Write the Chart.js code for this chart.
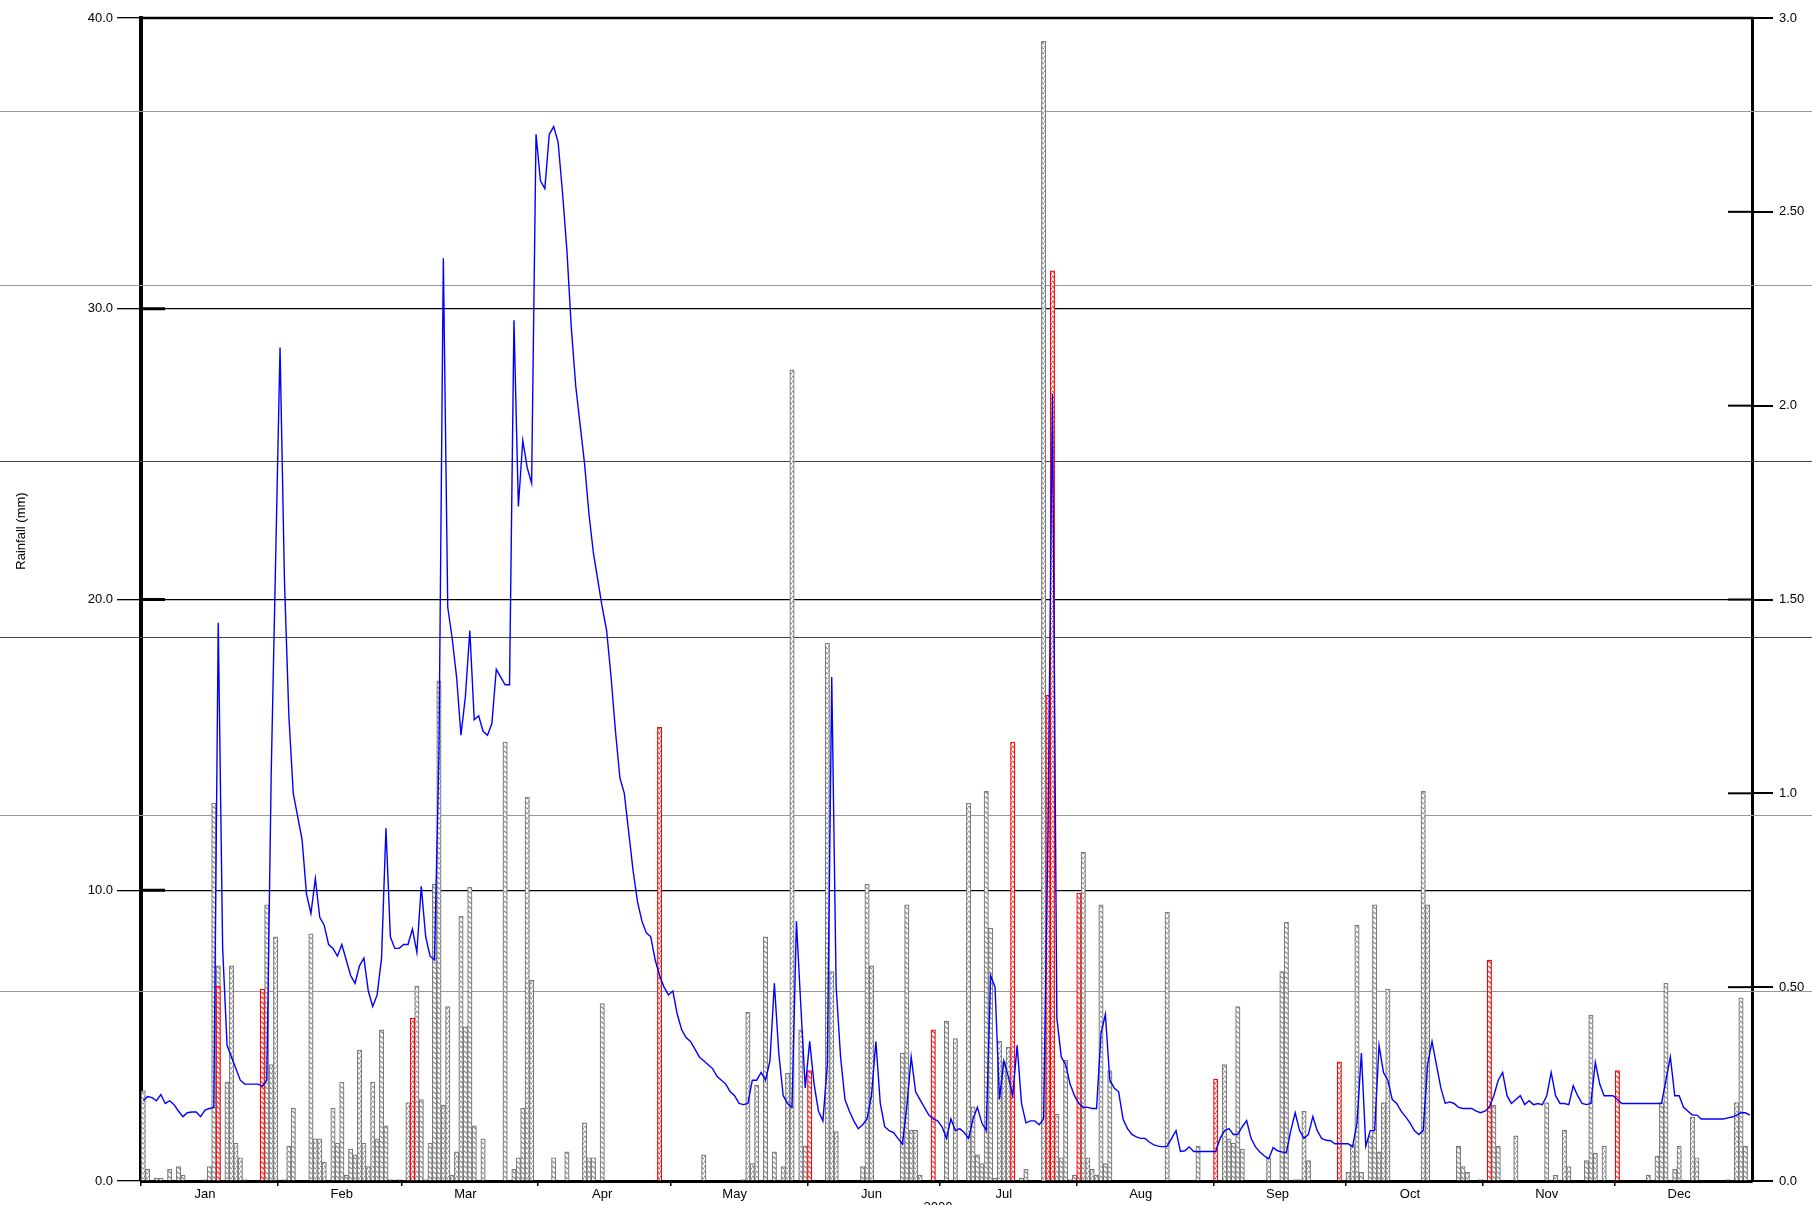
<!DOCTYPE html>
<html>
<head>
<meta charset="utf-8">
<script src="https://cdn.jsdelivr.net/npm/chart.js@4.4.1/dist/chart.umd.min.js"></script>
<style>
html, body { margin: 0; padding: 0; background: #fff; }
</style>
</head>
<body>
<canvas id="rainChart" width="1812" height="1205"></canvas>
<script>
const monthNames = ["Jan","Feb","Mar","Apr","May","Jun","Jul","Aug","Sep","Oct","Nov","Dec"];
const monthDays = [31,28,31,30,31,30,31,31,30,31,30,31];
const yearLabel = "2000";

// daily rainfall (mm), [day of year, value], grey bars
const greyRain = [[0,3.1],[1,0.4],[3,0.1],[4,0.1],[6,0.4],[8,0.5],[9,0.2],[14,0.05],[15,0.5],[16,13.0],[17,7.4],[19,3.4],[20,7.4],[21,1.3],[22,0.8],[23,0.05],
  [28,9.5],[29,4.0],[30,8.4],[32,0.05],[33,1.2],[34,2.5],[38,8.5],[39,1.45],[40,1.45],[41,0.65],[43,2.5],[44,1.3],[45,3.4],[46,0.2],[47,1.1],[48,0.9],[49,4.5],
  [50,1.3],[51,0.5],[52,3.4],[53,1.45],[54,5.2],[55,1.9],[56,0.05],[58,0.05],[60,2.7],[62,6.7],[63,2.8],[64,0.05],[65,1.3],[66,10.2],[67,17.2],[68,2.6],[69,6.0],
  [70,0.2],[71,1.0],[72,9.1],[73,5.3],[74,10.1],[75,1.9],[77,1.45],[82,15.1],[84,0.4],[85,0.8],[86,2.5],[87,13.2],[88,6.9],[93,0.8],[96,1.0],[100,2.0],[101,0.8],
  [102,0.8],[104,6.1],[127,0.9],[136,0.05],[137,5.8],[138,0.6],[139,3.3],[141,8.4],[143,1.0],[145,0.5],[146,3.7],[147,27.9],[149,5.2],[150,1.2],[155,18.5],
  [156,7.2],[157,1.7],[163,0.5],[164,10.2],[165,7.4],[172,4.4],[173,9.5],[174,1.75],[175,1.75],[176,0.2],[182,5.5],[184,4.9],[187,13.0],[188,2.55],[189,0.9],
  [190,0.6],[191,13.4],[192,8.7],[193,0.1],[194,4.8],[195,4.1],[196,4.6],[199,0.1],[200,0.4],[204,39.2],[207,2.3],[208,0.8],[209,4.15],[210,0.05],[211,0.2],
  [213,11.3],[214,0.8],[215,0.4],[216,0.2],[217,9.5],[218,0.6],[219,3.8],[232,9.25],[239,1.2],[245,4.0],[246,1.45],[247,1.3],[248,6.0],[249,1.1],[255,0.8],
  [258,7.2],[259,8.9],[261,0.05],[262,0.05],[263,2.4],[264,0.7],[273,0.3],[274,1.25],[275,8.8],[276,0.3],[278,1.55],[279,9.5],[280,1.0],[281,2.7],[282,6.6],
  [290,13.4],[291,9.5],[298,1.2],[299,0.5],[300,0.3],[303,0.05],[306,2.6],[307,1.2],[311,1.55],[318,2.7],[320,0.2],[322,1.75],[323,0.5],[327,0.7],[328,5.7],
  [329,0.95],[331,1.2],[341,0.2],[343,0.85],[344,2.7],[345,6.8],[347,0.4],[348,1.2],[351,2.2],[352,0.8],[359,0.05],[361,2.7],[362,6.3],[363,1.2]];

// red bars
const redRain = [[17,6.7],[27,6.6],[61,5.6],[117,15.6],[151,3.8],[179,5.2],[197,15.1],[205,16.7],[206,31.3],[212,9.9],[243,3.5],[271,4.1],[305,7.6],[334,3.8]];

// daily flow, right axis
const flow = [
  0.207,0.218,0.215,0.207,0.223,0.2,0.207,0.197,0.18,0.166,
  0.176,0.178,0.178,0.166,0.183,0.187,0.19,1.44,0.6,0.35,
  0.32,0.29,0.26,0.25,0.25,0.25,0.25,0.245,0.26,1.05,
  1.6,2.15,1.55,1.2,1.0,0.94,0.88,0.74,0.69,0.78,
  0.68,0.66,0.61,0.6,0.58,0.61,0.57,0.53,0.51,0.555,
  0.575,0.49,0.45,0.48,0.575,0.91,0.63,0.6,0.6,0.61,
  0.61,0.65,0.59,0.76,0.63,0.58,0.57,1.1,2.38,1.48,
  1.4,1.3,1.15,1.25,1.42,1.19,1.2,1.16,1.15,1.18,
  1.32,1.3,1.28,1.28,2.22,1.74,1.91,1.84,1.8,2.7,
  2.58,2.56,2.7,2.72,2.68,2.55,2.4,2.2,2.05,1.95,
  1.85,1.72,1.62,1.55,1.48,1.42,1.3,1.16,1.04,1.0,
  0.9,0.8,0.72,0.67,0.64,0.63,0.57,0.53,0.5,0.48,
  0.49,0.43,0.39,0.37,0.36,0.34,0.32,0.31,0.3,0.29,
  0.27,0.26,0.25,0.23,0.22,0.2,0.197,0.2,0.26,0.26,
  0.28,0.26,0.31,0.51,0.33,0.22,0.2,0.19,0.67,0.45,
  0.24,0.36,0.25,0.18,0.155,0.3,1.3,0.5,0.32,0.21,
  0.18,0.155,0.135,0.145,0.16,0.22,0.36,0.2,0.14,0.13,
  0.125,0.11,0.095,0.19,0.32,0.23,0.21,0.19,0.17,0.16,
  0.155,0.14,0.11,0.16,0.13,0.135,0.125,0.11,0.16,0.19,
  0.15,0.13,0.53,0.5,0.21,0.31,0.27,0.22,0.35,0.2,
  0.15,0.155,0.155,0.145,0.16,0.9,2.03,0.42,0.32,0.3,
  0.25,0.22,0.2,0.19,0.19,0.187,0.187,0.38,0.43,0.26,
  0.24,0.23,0.16,0.135,0.12,0.114,0.11,0.11,0.1,0.093,
  0.09,0.088,0.09,0.11,0.13,0.076,0.078,0.088,0.076,0.076,
  0.076,0.076,0.076,0.076,0.11,0.13,0.135,0.12,0.12,0.14,
  0.156,0.11,0.088,0.075,0.065,0.057,0.086,0.078,0.075,0.073,
  0.13,0.176,0.13,0.11,0.12,0.166,0.13,0.11,0.105,0.104,
  0.096,0.096,0.096,0.096,0.088,0.15,0.33,0.09,0.13,0.13,
  0.35,0.28,0.26,0.21,0.2,0.18,0.166,0.15,0.13,0.12,
  0.13,0.3,0.36,0.3,0.24,0.2,0.204,0.2,0.19,0.187,
  0.187,0.187,0.18,0.176,0.18,0.19,0.22,0.26,0.28,0.22,
  0.2,0.21,0.22,0.197,0.207,0.197,0.2,0.197,0.22,0.28,
  0.22,0.2,0.2,0.197,0.246,0.22,0.2,0.197,0.2,0.306,
  0.25,0.22,0.22,0.22,0.21,0.2,0.2,0.2,0.2,0.2,
  0.2,0.2,0.2,0.2,0.2,0.26,0.32,0.22,0.22,0.19,
  0.18,0.17,0.17,0.16,0.16,0.16,0.16,0.16,0.16,0.163,
  0.165,0.17,0.176,0.176,0.17
];

// the long thin lines that cross the whole picture (left axis units)
const bandLines = [6.54, 12.6, 18.7, 24.75, 30.8, 36.8];
const darkBands = [18.7, 24.75];

// build day labels, month starts and month label days
let labels = [];
let monthStart = [];
let monthMid = {};
monthDays.forEach((n, m) => {
    monthStart.push(labels.length);
    monthMid[labels.length + 14] = monthNames[m];
    for (let d = 1; d <= n; d++) labels.push(monthNames[m] + " " + d);
});

function toSeries(pairs) {
    let out = labels.map(() => null);
    pairs.forEach(p => { out[p[0]] = p[1]; });
    return out;
}

const canvas1 = document.getElementById("rainChart");
const ctx1 = canvas1.getContext("2d");

function hatch(color) {
    const c = document.createElement("canvas");
    c.width = 4;
    c.height = 5;
    const g = c.getContext("2d");
    g.fillStyle = "#ffffff";
    g.fillRect(0, 0, 4, 5);
    g.strokeStyle = color;
    g.lineWidth = 1.2;
    g.beginPath();
    g.moveTo(0, 1);
    g.lineTo(4, 4);
    g.stroke();
    return ctx1.createPattern(c, "repeat");
}

const font = { family: "'Liberation Sans', Arial, sans-serif", size: 13 };

const decor = {
    id: "decor",
    beforeDatasetsDraw(chart) {
        const c = chart.ctx;
        const y = chart.scales.y;
        c.save();
        bandLines.forEach(v => {
            const py = Math.round(y.getPixelForValue(v)) + 0.5;
            c.strokeStyle = darkBands.includes(v) ? "#444444" : "#999999";
            c.lineWidth = 1;
            c.beginPath();
            c.moveTo(0, py);
            c.lineTo(chart.width, py);
            c.stroke();
        });
        c.restore();
    },
    afterDraw(chart) {
        const c = chart.ctx;
        const a = chart.chartArea;
        const y = chart.scales.y;
        const y1 = chart.scales.y1;
        c.save();
        c.strokeStyle = "#000";
        c.lineWidth = 2.5;
        c.beginPath();
        c.moveTo(a.left - 2, a.top);
        c.lineTo(a.right + 1, a.top);
        c.stroke();
        // inner thick ticks
        c.lineWidth = 3;
        [10, 20, 30].forEach(v => {
            const py = y.getPixelForValue(v);
            c.beginPath();
            c.moveTo(a.left, py);
            c.lineTo(a.left + 24, py);
            c.stroke();
        });
        c.lineWidth = 2;
        [0.5, 1.0, 1.5, 2.0, 2.5].forEach(v => {
            const py = y1.getPixelForValue(v);
            c.beginPath();
            c.moveTo(a.right - 24, py);
            c.lineTo(a.right, py);
            c.stroke();
        });
        c.fillStyle = "#000";
        c.font = "13px 'Liberation Sans', Arial, sans-serif";
        c.textAlign = "center";
        c.textBaseline = "middle";
        c.translate(21, 531);
        c.rotate(-Math.PI / 2);
        c.fillText("Rainfall (mm)", 0, 0);
        c.restore();
        c.save();
        c.fillStyle = "#000";
        c.font = "13px 'Liberation Sans', Arial, sans-serif";
        c.textAlign = "center";
        c.textBaseline = "top";
        c.fillText(yearLabel, 938, 1201);
        c.restore();
    }
};

const data = {
    labels: labels,
    datasets: [
        {
            type: "line",
            label: "Flow",
            data: flow,
            yAxisID: "y1",
            borderColor: "#0000ff",
            borderWidth: 1.4,
            pointRadius: 0,
            tension: 0,
            order: 0
        },
        {
            type: "bar",
            label: "Rainfall (red)",
            data: toSeries(redRain),
            yAxisID: "y",
            backgroundColor: hatch("#ff3030"),
            borderColor: "#ff0000",
            borderWidth: 1.2,
            grouped: false,
            barPercentage: 1.0,
            categoryPercentage: 1.0,
            order: 1
        },
        {
            type: "bar",
            label: "Rainfall",
            data: toSeries(greyRain),
            yAxisID: "y",
            backgroundColor: hatch("#8a8a8a"),
            borderColor: "#7c7c7c",
            borderWidth: 1.2,
            grouped: false,
            barPercentage: 1.0,
            categoryPercentage: 1.0,
            order: 2
        }
    ]
};

const config = {
    type: "bar",
    data: data,
    plugins: [decor],
    options: {
        responsive: false,
        animation: false,
        layout: { padding: { top: 18, left: 0, right: 0, bottom: 0 } },
        plugins: {
            legend: { display: false },
            tooltip: { enabled: false }
        },
        scales: {
            x: {
                type: "category",
                offset: true,
                afterFit: s => { s.height = 24; },
                grid: {
                    offset: true,
                    drawOnChartArea: false,
                    tickLength: 5,
                    lineWidth: 1.5,
                    color: ctx => monthStart.includes(ctx.index) ? "#000" : "rgba(0,0,0,0)"
                },
                border: { display: true, color: "#000", width: 3 },
                ticks: {
                    autoSkip: false,
                    maxRotation: 0,
                    padding: 1,
                    color: "#000",
                    font: font,
                    callback: (v, i) => monthMid[i] || ""
                }
            },
            y: {
                position: "left",
                min: 0,
                max: 40,
                afterFit: s => { s.width = 141; },
                ticks: {
                    stepSize: 10,
                    padding: 4,
                    color: "#000",
                    font: font,
                    callback: v => v.toFixed(1)
                },
                grid: { color: "#000", lineWidth: 1.3, tickLength: 24 },
                border: { color: "#000", width: 4 }
            },
            y1: {
                position: "right",
                min: 0,
                max: 3,
                afterFit: s => { s.width = 60; },
                ticks: {
                    stepSize: 0.5,
                    padding: 6,
                    color: "#000",
                    font: font,
                    callback: v => Number.isInteger(v) ? v.toFixed(1) : v.toFixed(2)
                },
                grid: { drawOnChartArea: false, color: "#000", lineWidth: 2, tickLength: 21 },
                border: { color: "#000", width: 3 }
            }
        }
    }
};

let chart1 = new Chart(ctx1, config);
</script>
</body>
</html>
